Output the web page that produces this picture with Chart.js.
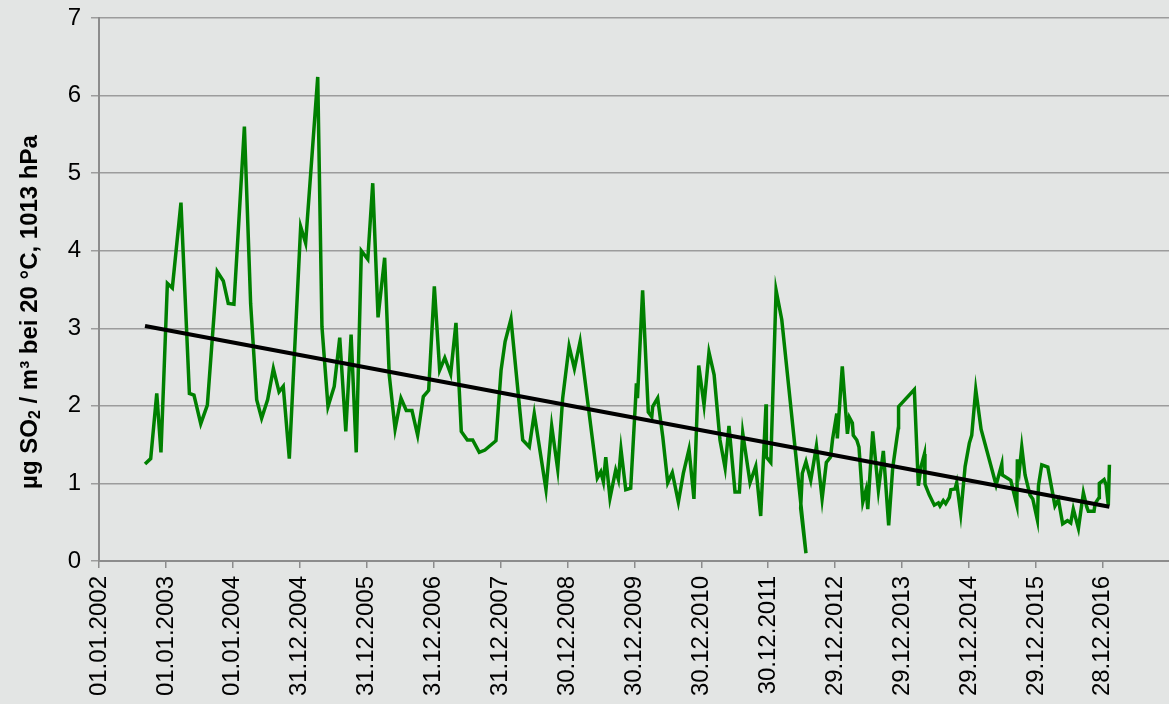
<!DOCTYPE html>
<html>
<head>
<meta charset="utf-8">
<script src="https://cdn.jsdelivr.net/npm/chart.js@4.4.1/dist/chart.umd.min.js"></script>
<style>
  html, body { margin: 0; padding: 0; background: #e3e5e4; }
  #wrap { width: 1169px; height: 704px; }
</style>
</head>
<body>
<div id="wrap"><canvas id="c" width="1169" height="704"></canvas></div>
<script>
// x values: days since 01.01.2002
const measureDays = [251,282,315,338,373,400,447,493,518,555,591,645,678,705,736,762,793,827,860,887,920,951,982,1005,1038,1100,1127,1193,1216,1249,1283,1313,1346,1375,1403,1431,1466,1493,1522,1558,1583,1615,1647,1676,1707,1738,1769,1798,1829,1858,1886,1918,1947,1976,2009,2038,2074,2105,2165,2193,2215,2247,2311,2347,2374,2438,2469,2502,2529,2564,2593,2624,2718,2737,2751,2764,2787,2818,2833,2847,2873,2900,2926,2931,2937,2965,2996,3015,3020,3047,3075,3102,3127,3160,3187,3218,3245,3271,3300,3327,3355,3387,3415,3436,3469,3493,3511,3551,3582,3609,3638,3640,3664,3693,3724,3856,3827,3836,3856,3882,3913,3944,3967,3990,4001,4024,4027,4054,4082,4093,4109,4114,4133,4145,4166,4184,4193,4220,4251,4278,4307,4329,4360,4361,4447,4469,4484,4502,4505,4529,4556,4578,4587,4605,4618,4638,4646,4669,4678,4700,4724,4747,4760,4782,4811,4893,4924,4927,4973,5006,5009,5020,5033,5051,5078,5093,5118,5124,5142,5175,5214,5233,5256,5282,5300,5314,5342,5369,5387,5396,5427,5433,5455,5456,5482,5493,5505,5511];
const so2Values = [1.25,1.32,2.16,1.40,3.58,3.52,4.62,2.16,2.14,1.77,2.01,3.73,3.61,3.32,3.31,4.35,5.60,3.32,2.08,1.84,2.08,2.48,2.18,2.25,1.32,4.31,4.10,6.24,3.02,1.99,2.25,2.88,1.67,2.92,1.40,4.00,3.89,4.87,3.14,3.91,2.40,1.70,2.10,1.94,1.94,1.62,2.12,2.20,3.54,2.46,2.62,2.41,3.07,1.67,1.56,1.56,1.40,1.43,1.55,2.46,2.83,3.12,1.56,1.47,1.90,0.92,1.74,1.18,2.10,2.77,2.48,2.83,1.07,1.15,1.02,1.34,0.81,1.17,1.05,1.44,0.92,0.94,2.05,2.29,2.10,3.49,1.92,1.86,1.99,2.10,1.60,1.01,1.14,0.76,1.13,1.44,0.80,2.52,2.01,2.69,2.40,1.56,1.20,1.74,0.89,0.89,1.65,1.01,1.22,0.58,2.02,1.34,1.27,3.49,3.11,0.10,0.68,1.13,1.28,1.04,1.48,0.80,1.27,1.34,1.57,1.90,1.58,2.51,1.64,1.85,1.78,1.62,1.56,1.47,0.76,0.92,0.67,1.67,0.91,1.42,0.46,1.20,1.72,1.99,2.21,0.97,1.22,1.38,0.99,0.85,0.72,0.75,0.71,0.78,0.74,0.82,0.92,0.93,1.01,0.61,1.22,1.52,1.62,2.21,1.70,0.98,1.25,1.11,1.04,0.72,1.31,1.17,1.47,1.11,0.85,0.80,0.53,0.97,1.24,1.21,0.71,0.79,0.48,0.52,0.49,0.67,0.42,0.88,0.70,0.64,0.64,0.74,0.82,1.00,1.05,0.98,0.72,1.24];
// linear trend line end points (days, value)
const trendDays = [251, 5511];
const trendValues = [3.03, 0.70];
// x-axis tick labels (365-day major unit starting 01.01.2002)
const tickLabels = ['01.01.2002','01.01.2003','01.01.2004','31.12.2004','31.12.2005','31.12.2006','31.12.2007','30.12.2008','30.12.2009','30.12.2010','30.12.2011','29.12.2012','29.12.2013','29.12.2014','29.12.2015','28.12.2016'];
const yTitleParts = ['µg SO', '2', ' / m³ bei 20 °C, 1013 hPa'];

const FONT = "'Liberation Sans', Arial, sans-serif";

const yTitlePlugin = {
  id: 'yTitle',
  afterDraw(chart) {
    const ctx = chart.ctx;
    const cx = 30, cy = 312;
    const big = 'bold 24px ' + FONT, small = 'bold 16px ' + FONT;
    ctx.save();
    ctx.font = big; const w0 = ctx.measureText(yTitleParts[0]).width;
    const w2 = ctx.measureText(yTitleParts[2]).width;
    ctx.font = small; const w1 = ctx.measureText(yTitleParts[1]).width;
    const total = w0 + w1 + w2;
    ctx.translate(cx, cy);
    ctx.rotate(-Math.PI / 2);
    ctx.fillStyle = '#000';
    ctx.textBaseline = 'middle';
    ctx.textAlign = 'left';
    let x = -total / 2;
    ctx.font = big; ctx.fillText(yTitleParts[0], x, 0); x += w0;
    ctx.font = small; ctx.fillText(yTitleParts[1], x, 6); x += w1;
    ctx.font = big; ctx.fillText(yTitleParts[2], x, 0);
    ctx.restore();
  }
};

new Chart(document.getElementById('c'), {
  type: 'line',
  data: {
    datasets: [
      {
        label: 'SO2',
        data: measureDays.map((d, i) => ({ x: d, y: so2Values[i] })),
        borderColor: '#008000',
        borderWidth: 3.5,
        pointRadius: 0,
        tension: 0,
        fill: false,
        order: 2
      },
      {
        label: 'Trend',
        data: trendDays.map((d, i) => ({ x: d, y: trendValues[i] })),
        borderColor: '#000000',
        borderWidth: 4,
        pointRadius: 0,
        tension: 0,
        fill: false,
        order: 1
      }
    ]
  },
  options: {
    responsive: false,
    animation: false,
    layout: { padding: { top: 18, right: 0, left: 0, bottom: 0 } },
    plugins: { legend: { display: false }, tooltip: { enabled: false } },
    scales: {
      x: {
        type: 'linear',
        min: 0,
        max: 5836,
        afterBuildTicks(scale) { scale.ticks = tickLabels.map((l, i) => ({ value: i * 365 })); },
        afterFit(scale) { scale.height = 143; scale.paddingLeft = 0; scale.paddingRight = 0; },
        ticks: {
          autoSkip: false,
          maxRotation: 90,
          minRotation: 90,
          padding: 8,
          color: '#000',
          font: { family: FONT, size: 24 },
          callback: (v, i) => tickLabels[i]
        },
        grid: { drawOnChartArea: false, drawTicks: true, tickLength: 7, color: '#8c8c8c', lineWidth: 1.5 },
        border: { display: true, color: '#8c8c8c', width: 2 }
      },
      y: {
        min: 0,
        max: 7,
        afterFit(scale) { scale.width = 99; scale.paddingTop = 0; scale.paddingBottom = 0; },
        ticks: { stepSize: 1, padding: 10, color: '#000', font: { family: FONT, size: 24 } },
        grid: { color: '#9c9c9c', lineWidth: 1.5, tickLength: 8, drawTicks: true },
        border: { display: true, color: '#8c8c8c', width: 2 }
      }
    }
  },
  plugins: [yTitlePlugin]
});
</script>
</body>
</html>
